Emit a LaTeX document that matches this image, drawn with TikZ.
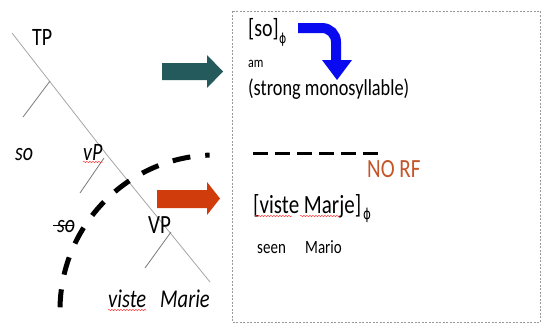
\documentclass[tikz,border=0pt]{standalone}
\usepackage{fontspec}
\setmainfont{Carlito}
\newfontfamily\dejavu{DejaVu Sans}
\usetikzlibrary{decorations.pathmorphing}
\definecolor{tealarrow}{HTML}{245A5C}
\definecolor{redarrow}{HTML}{D13C0C}
\definecolor{bluearrow}{HTML}{0A0AF0}
\definecolor{norf}{HTML}{C4562A}
\definecolor{treegray}{HTML}{7A7A7A}
\newcommand{\tallt}[1]{\scalebox{1}[1.25]{#1}}
\tikzset{
  txt/.style={inner sep=0pt, anchor=base west},
  treeline/.style={draw=treegray, line width=0.8pt},
  squig/.style={draw=red!80, line width=0.5pt, decorate, decoration={snake, amplitude=0.6pt, segment length=3pt}},
  bigdash/.style={line width=5pt, dash pattern=on 18pt off 15pt},
  smalldash/.style={line width=3pt, dash pattern=on 15pt off 7pt},
  boxdash/.style={draw=gray!80, line width=0.6pt, dash pattern=on 2pt off 1.5pt}
}
\begin{document}
\begin{tikzpicture}[x=1pt,y=-1pt]
\useasboundingbox (0,0) rectangle (543,324);
\fill[white] (0,0) rectangle (543,324);

% dashed frame
\draw[boxdash] (232,11) rectangle (540,322);

% tree coordinates
\coordinate (top) at (12,33);
\coordinate (n1) at (50,81);
\coordinate (n1l) at (23,117);
\coordinate (mid) at (107,155);
\coordinate (n2) at (104,158);
\coordinate (n2l) at (80,193);
\coordinate (n3) at (171,232);
\coordinate (n3l) at (145,268);
\coordinate (bot) at (210,282);

\draw[treeline, draw=gray!70] (top) -- (mid) -- (bot);
\draw[treeline] (n1) -- (n1l);
\draw[treeline] (n2) -- (n2l);
\draw[treeline] (n3) -- (n3l);

% tree labels
\node[txt, font=\fontsize{20}{24}\selectfont] (TP) at (32,45) {\tallt{TP}};
\node[txt, font=\fontsize{20}{24}\selectfont\itshape] (so1) at (15,160) {\tallt{so}};
\node[txt, font=\fontsize{20}{24}\selectfont\itshape] (vP) at (83,160) {\tallt{vP}};
\node[txt, font=\fontsize{20}{24}\selectfont\itshape] (so2) at (57,232) {\tallt{so}};
\node[txt, font=\fontsize{21}{24}\selectfont] (VP) at (148,233) {\tallt{VP}};
\node[txt, font=\fontsize{20.5}{24}\selectfont\itshape] (viste) at (108,307) {\tallt{viste}};
\node[txt, font=\fontsize{20.5}{24}\selectfont\itshape] (Marie) at (160,307) {\tallt{Marie}};

% strike-through and spell-check underlines
\draw[line width=1pt] ([xshift=-4pt,yshift=1pt]so2.west) -- ([xshift=-2pt,yshift=1pt]so2.east);
\draw[squig] ([yshift=-2pt]vP.base west) -- ([yshift=-2pt]vP.base east);
\draw[squig] ([yshift=-3pt]viste.base west) -- ([yshift=-3pt]viste.base east);

% big dashed arc
\draw[bigdash] (215,310) ++(181:155) arc[start angle=181, end angle=268, radius=155];

% block arrows
\fill[tealarrow] (162,63) -- (207,63) -- (207,55) -- (223,71.5) -- (207,88) -- (207,80) -- (162,80) -- cycle;
\fill[redarrow] (157,190) -- (207,190) -- (207,182) -- (220,198.5) -- (207,215) -- (207,208) -- (157,208) -- cycle;

% box contents
\node[txt, font=\fontsize{20}{24}\selectfont] (so3) at (248,36) {\tallt{[so]}};
\node[txt, font=\fontsize{11}{14}\selectfont\dejavu] (phi1) at (279,43) {\tallt{ϕ}};
\draw[bluearrow, line width=10pt, rounded corners=14pt] (298,28) -- (336,28) -- (336,61);
\fill[bluearrow] (322,60) -- (352,60) -- (337,80) -- cycle;
\node[txt, font=\fontsize{12}{14}\selectfont] (am) at (248,67) {\tallt{am}};
\node[txt, font=\fontsize{18.3}{22}\selectfont] (strong) at (248,95) {\tallt{(strong monosyllable)}};

\draw[smalldash] (253,153) -- (378,153);
\node[txt, font=\fontsize{21}{24}\selectfont, text=norf] (norfnode) at (367,177) {\tallt{NO RF}};

\node[txt, font=\fontsize{21}{24}\selectfont] (vm) at (253,213) {\tallt{[viste Marje]}};
\node[txt, font=\fontsize{12}{16}\selectfont\dejavu] (phi2) at (363,219) {\tallt{ϕ}};
\draw[squig] (255,216) -- (292,216);
\draw[squig] (300,216) -- (340,216);

\node[txt, font=\fontsize{15}{18}\selectfont] (seen) at (257,253) {\tallt{seen}};
\node[txt, font=\fontsize{15}{18}\selectfont] (mario) at (305,253) {\tallt{Mario}};
\end{tikzpicture}
\end{document}
